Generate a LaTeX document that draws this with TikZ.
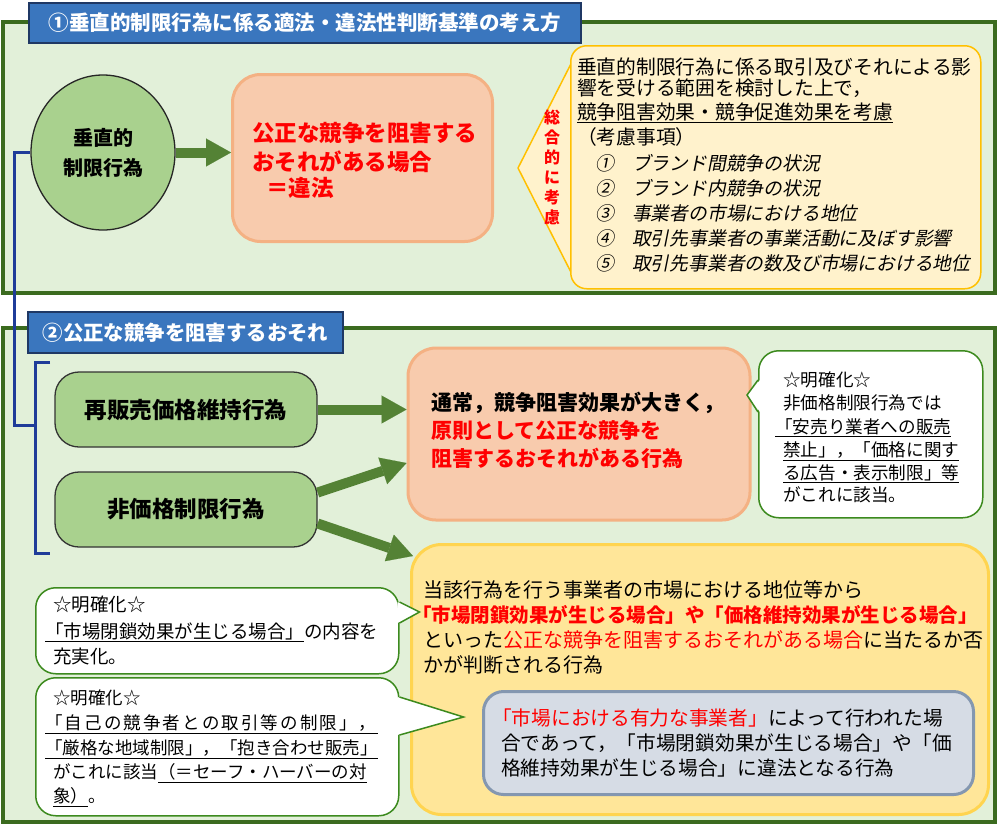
\documentclass[tikz,border=0pt]{standalone}
\usepackage{fontspec}
\setmainfont{Noto Sans CJK JP}
\newfontfamily\slfont{Noto Sans CJK JP}[FakeSlant=0.2]
\usetikzlibrary{arrows.meta,shapes.geometric,calc}
\definecolor{panelfill}{HTML}{E2F0D9}
\definecolor{panelline}{HTML}{3B6B1F}
\definecolor{bannerfill}{HTML}{3A76BE}
\definecolor{bannerline}{HTML}{1F3864}
\definecolor{leaf}{HTML}{A9D18E}
\definecolor{arrowgreen}{HTML}{548235}
\definecolor{salfill}{HTML}{F8CBAD}
\definecolor{salline}{HTML}{F4B183}
\definecolor{creamfill}{HTML}{FFF2CC}
\definecolor{goldline}{HTML}{FFC000}
\definecolor{yelfill}{HTML}{FFE699}
\definecolor{yelline}{HTML}{FFD44F}
\definecolor{greyfill}{HTML}{D6DCE5}
\definecolor{greyline}{HTML}{8497B0}
\definecolor{calline}{HTML}{3C8A1E}
\definecolor{bracketblue}{HTML}{1F3C99}
\definecolor{redtext}{HTML}{FF0000}
\newcommand\fsz[1]{\fontsize{#1}{#1}\selectfont}
\makeatletter
\newcommand\spreadchars[2]{\def\spr@gap{#1}\@tfor\spr@c:=#2\do{\spr@c\hspace{\spr@gap}}}
\makeatother
\begin{document}
\begin{tikzpicture}[x=1pt,y=-1pt,
  panel/.style={fill=panelfill, draw=panelline, line width=3.2pt},
  banner/.style={fill=bannerfill, draw=bannerline, line width=1.8pt, text=white, inner sep=0pt},
  greenbox/.style={fill=leaf, draw=black!80, line width=1.3pt, rounded corners=24pt, inner sep=0pt, font=\fsz{22.5}\bfseries},
  salmonbox/.style={fill=salfill, draw=salline, line width=3pt, rounded corners=28pt, inner sep=0pt},
  callout/.style={fill=white, draw=calline, line width=1.5pt, rounded corners=20pt, inner sep=0pt},
  tailline/.style={draw=calline, line width=1.5pt},
  txt/.style={anchor=base west, inner sep=0pt},
  bigarrow/.style={draw=arrowgreen, line width=10pt, -{Triangle[length=25pt,width=28pt,line width=0.1pt]}},
  blueline/.style={draw=bracketblue, line width=3pt},
]
\useasboundingbox (0,0) rectangle (1000,831);

% ---------- panel 1 ----------
\draw[panel] (3,22) rectangle (995,293);
\draw[panel] (3,328) rectangle (995,822);

\node[banner, minimum width=552pt, minimum height=40pt, font=\fsz{20.5}\bfseries] (t1) at (305,23)
  {①垂直的制限行為に係る適法・違法性判断基準の考え方};

\node[ellipse, fill=leaf, draw=black!85, line width=1.3pt, minimum width=144pt, minimum height=155pt,
  inner sep=0pt, align=center, font=\fontsize{20}{30}\selectfont\bfseries] (vr) at (103,152.5) {垂直的\\制限行為};

\node[salmonbox, anchor=north west, minimum width=260pt, minimum height=167pt] (b1) at (231,73) {};
\node[txt, font=\fsz{22.5}\bfseries, text=redtext] (b1a) at (252,141.5) {公正な競争を阻害する};
\node[txt, font=\fsz{22.5}\bfseries, text=redtext] (b1b) at (252,170.5) {おそれがある場合};
\node[txt, font=\fsz{22.5}\bfseries, text=redtext] (b1c) at (266,196.5) {＝違法};

\draw[bigarrow] (vr.east) -- (vr.east -| b1.west);

\draw[fill=creamfill, draw=goldline, line width=1.5pt, line join=round] (518,168) -- (578,50) -- (578,286) -- cycle;
\node[fill=creamfill, draw=goldline, line width=1.5pt, rounded corners=16pt, anchor=north west,
  minimum width=410pt, minimum height=243pt, inner sep=0pt] (cb) at (570,45) {};
\node[font=\fontsize{16}{20}\selectfont\bfseries, text=redtext, align=center, inner sep=0pt] (sogo) at (552,167)
  {総\\合\\的\\に\\考\\慮};

\node[txt, font=\fsz{19.75}] (c1) at (577,74.5) {垂直的制限行為に係る取引及びそれによる影};
\node[txt, font=\fsz{19.75}] (c2) at (577,95.5) {響を受ける範囲を検討した上で，};
\node[txt, font=\fsz{19.75}] (c3) at (577,119.5) {\underline{競争阻害効果・競争促進効果を考慮}};
\node[txt, font=\fsz{19.75}] (c4) at (577,144.5) {（考慮事項）};
\node[txt, font=\fsz{18.8}\slfont] (c5) at (595,170.5) {①\hspace{18pt}ブランド間競争の状況};
\node[txt, font=\fsz{18.8}\slfont] (c6) at (595,195.5) {②\hspace{18pt}ブランド内競争の状況};
\node[txt, font=\fsz{18.8}\slfont] (c7) at (595,220.5) {③\hspace{18pt}事業者の市場における地位};
\node[txt, font=\fsz{18.8}\slfont] (c8) at (595,245.5) {④\hspace{18pt}取引先事業者の事業活動に及ぼす影響};
\node[txt, font=\fsz{18.8}\slfont] (c9) at (595,270.5) {⑤\hspace{18pt}取引先事業者の数及び市場における地位};

% ---------- panel 2 ----------
\coordinate (brk) at (35,425);
\draw[blueline] (vr.west) -- ++(-16,0) |- (brk);
\draw[blueline] (50,362) -- (35,362) -- (35,553) -- (50,553);

\node[banner, minimum width=315pt, minimum height=41pt, font=\fsz{20.4}\bfseries] (t2) at (185.5,332.5)
  {②公正な競争を阻害するおそれ};

\node[greenbox, minimum width=262pt, minimum height=75pt] (rp) at (186,409.5) {再販売価格維持行為};
\node[greenbox, minimum width=262pt, minimum height=75pt] (np) at (186,509.5) {非価格制限行為};

\node[salmonbox, minimum width=342pt, minimum height=172pt] (s2) at (579,434) {};
\node[txt, font=\fsz{21}\bfseries] (s2a) at (431,410) {通常，競争阻害効果が大きく，};
\node[txt, font=\fsz{21}\bfseries, text=redtext] (s2b) at (431,438) {原則として公正な競争を};
\node[txt, font=\fsz{21}\bfseries, text=redtext] (s2c) at (431,466) {阻害するおそれがある行為};

% right callout
\node[callout, anchor=north west, minimum width=224pt, minimum height=167pt] (cR) at (758,350) {};
\fill[white] ($(cR.north west)+(2,30)$) -- ($(cR.north west)+(-11,45)$) -- ($(cR.north west)+(2,62)$) -- cycle;
\draw[tailline] ($(cR.north west)+(0,30)$) -- ($(cR.north west)+(-11,45)$) -- ($(cR.north west)+(0,62)$);
\node[txt, font=\fsz{17.6}] (r1) at (783,386.7) {☆明確化☆};
\node[txt, font=\fsz{17.6}] (r2) at (783,409.7) {非価格制限行為では};
\node[txt, font=\fsz{17.6}] (r3) at (775,433.7) {\underline{「安売り業者への販売}};
\node[txt, font=\fsz{17.6}] (r4) at (783,456.7) {\underline{禁止」，「価格に関す}};
\node[txt, font=\fsz{17.6}] (r5) at (783,479.7) {\underline{る広告・表示制限」等}};
\node[txt, font=\fsz{17.6}] (r6) at (783,501.7) {がこれに該当。};

% big yellow box
\node[fill=yelfill, draw=yelline, line width=3pt, rounded corners=30pt, anchor=north west,
  minimum width=577pt, minimum height=270pt, inner sep=0pt] (yb) at (410,543) {};
\node[txt, font=\fsz{20}] (y1) at (423,597.6) {当該行為を行う事業者の市場における地位等から};
\node[txt, font=\fsz{19.5}\bfseries, text=redtext] (y2) at (412,622.6) {「市場閉鎖効果が生じる場合」や「価格維持効果が生じる場合」};
\node[txt, font=\fsz{20}] (y3) at (423,647.6) {といった{\color{redtext}公正な競争を阻害するおそれがある場合}に当たるか否};
\node[txt, font=\fsz{20}] (y4) at (423,672.6) {かが判断される行為};

\node[fill=greyfill, draw=greyline, line width=3pt, rounded corners=20pt, anchor=north west,
  minimum width=490pt, minimum height=103pt, inner sep=0pt] (gb) at (482,690) {};
\node[txt, font=\fsz{19.7}] (g1) at (492,725.5) {{\color{redtext}「市場における有力な事業者」}によって行われた場};
\node[txt, font=\fsz{19.7}] (g2) at (501,750.5) {合であって，「市場閉鎖効果が生じる場合」や「価};
\node[txt, font=\fsz{19.7}] (g3) at (501,775.5) {格維持効果が生じる場合」に違法となる行為};

% arrows
\draw[bigarrow] (rp.east) -- (rp.east -| s2.west);
\draw[bigarrow] ($(np.east)+(0,-17)$) -- ($(s2.west)+(0,29)$);
\draw[bigarrow] ($(np.east)+(0,14)$) -- ($(yb.north west)+(3,13)$);

% callout A
\node[callout, anchor=north west, minimum width=363pt, minimum height=86pt] (cA) at (35,587) {};
\fill[white] ($(cA.north east)+(-2,15)$) -- ($(cA.north east)+(20,25)$) -- ($(cA.north east)+(-2,36)$) -- cycle;
\draw[tailline] ($(cA.north east)+(0,15)$) -- ($(cA.north east)+(20,25)$) -- ($(cA.north east)+(0,36)$);
\node[txt, font=\fsz{18.5}] (a1) at (53,611) {☆明確化☆};
\node[txt, font=\fsz{18.5}] (a2) at (45,638) {\underline{「市場閉鎖効果が生じる場合」}の内容を};
\node[txt, font=\fsz{18.5}] (a3) at (53,663) {充実化。};

% callout B
\node[callout, anchor=north west, minimum width=363pt, minimum height=138pt] (cB) at (35,677) {};
\fill[white] ($(cB.north east)+(-2,20)$) -- ($(cB.north east)+(64,40)$) -- ($(cB.north east)+(-2,58)$) -- cycle;
\draw[tailline] ($(cB.north east)+(0,20)$) -- ($(cB.north east)+(64,40)$) -- ($(cB.north east)+(0,58)$);
\node[txt, font=\fsz{17.5}] (bb1) at (53,704.7) {☆明確化☆};
\node[txt, font=\fsz{17.5}] (bb2) at (45,729.7) {\underline{\spreadchars{2.1pt}{「自己の競争者との取引等の制限」，}}};
\node[txt, font=\fsz{17.5}] (bb3) at (45,754.7) {\underline{「厳格な地域制限」，「抱き合わせ販売」}};
\node[txt, font=\fsz{17.5}] (bb4) at (53,778.7) {がこれに該当\underline{（＝セーフ・ハーバーの対}};
\node[txt, font=\fsz{17.5}] (bb5) at (53,802.7) {\underline{象）}。};
\end{tikzpicture}
\end{document}
